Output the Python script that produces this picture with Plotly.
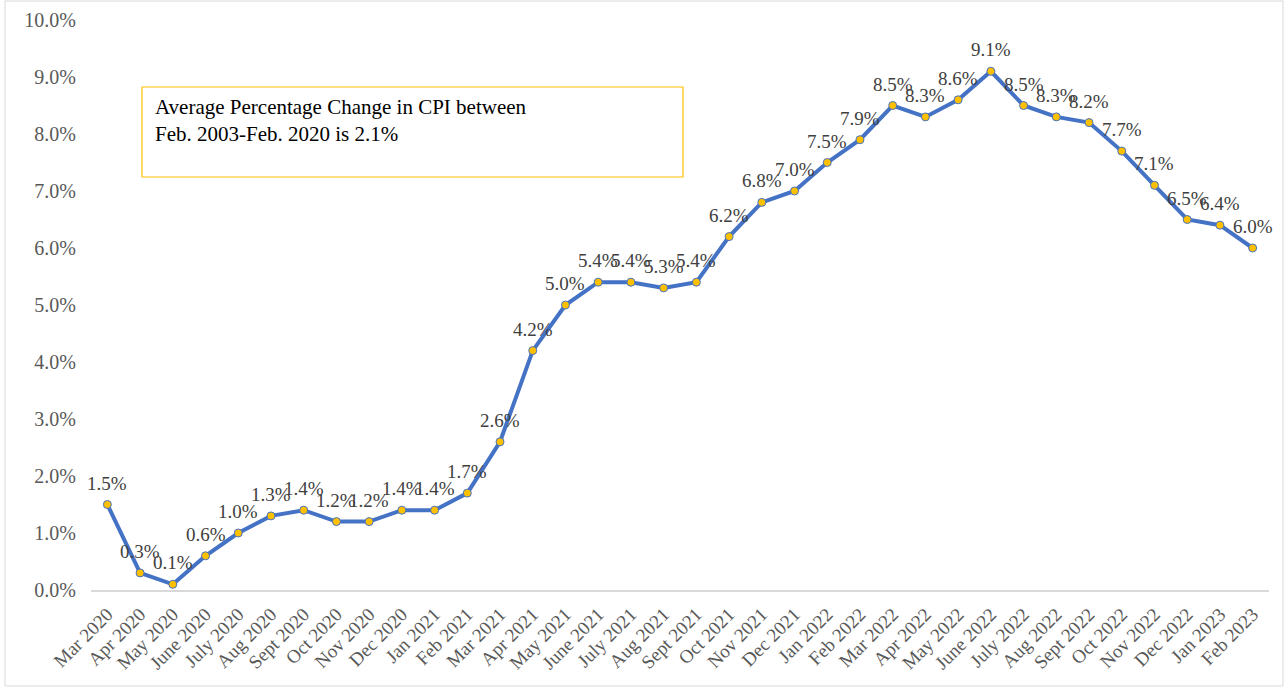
import plotly.graph_objects as go

months = ["Mar 2020", "Apr 2020", "May 2020", "June 2020", "July 2020", "Aug 2020",
          "Sept 2020", "Oct 2020", "Nov 2020", "Dec 2020", "Jan 2021", "Feb 2021",
          "Mar 2021", "Apr 2021", "May 2021", "June 2021", "July 2021", "Aug 2021",
          "Sept 2021", "Oct 2021", "Nov 2021", "Dec 2021", "Jan 2022", "Feb 2022",
          "Mar 2022", "Apr 2022", "May 2022", "June 2022", "July 2022", "Aug 2022",
          "Sept 2022", "Oct 2022", "Nov 2022", "Dec 2022", "Jan 2023", "Feb 2023"]
cpi_change = [1.5, 0.3, 0.1, 0.6, 1.0, 1.3, 1.4, 1.2, 1.2, 1.4, 1.4, 1.7,
              2.6, 4.2, 5.0, 5.4, 5.4, 5.3, 5.4, 6.2, 6.8, 7.0, 7.5, 7.9,
              8.5, 8.3, 8.6, 9.1, 8.5, 8.3, 8.2, 7.7, 7.1, 6.5, 6.4, 6.0]
y_ticks = [0, 1, 2, 3, 4, 5, 6, 7, 8, 9, 10]
y_tick_labels = ["0.0%", "1.0%", "2.0%", "3.0%", "4.0%", "5.0%", "6.0%", "7.0%", "8.0%", "9.0%", "10.0%"]
note_text = "Average Percentage Change in CPI between<br>Feb. 2003-Feb. 2020 is 2.1%"

SERIF = "Liberation Serif, Times New Roman, serif"
W, H = 1288, 691
ML, MR, MT, MB = 91, 19, 20, 101
PW, PH = W - ML - MR, H - MT - MB

def px(x):
    return (x - ML) / PW

def py(y):
    return (H - MB - y) / PH

fig = go.Figure()
fig.add_trace(go.Scatter(
    x=months, y=cpi_change, mode="lines+markers",
    line=dict(color="#4472C4", width=4),
    marker=dict(size=8, color="#FFC000", line=dict(color="#4472C4", width=1)),
    hoverinfo="x+y", showlegend=False,
))

for m, v in zip(months, cpi_change):
    fig.add_annotation(x=m, y=v, text=f"{v:.1f}%", showarrow=False,
                       yanchor="bottom", yshift=9,
                       font=dict(family=SERIF, size=19, color="#404040"))

# chart outer border
fig.add_shape(type="rect", xref="paper", yref="paper",
              x0=px(5), x1=px(1283), y0=py(1), y1=py(686),
              line=dict(color="#D9D9D9", width=1), layer="below")

# note box
fig.add_shape(type="rect", xref="paper", yref="paper",
              x0=px(142), x1=px(683), y0=py(87), y1=py(177),
              line=dict(color="#FFC000", width=1.2), fillcolor="white")
fig.add_annotation(xref="paper", yref="paper", x=px(153), y=py(93),
                   xanchor="left", yanchor="top", align="left",
                   text=note_text, showarrow=False,
                   font=dict(family=SERIF, size=21, color="#000000"))

fig.update_layout(
    width=W, height=H,
    margin=dict(l=ML, r=MR, t=MT, b=MB, autoexpand=False),
    paper_bgcolor="white", plot_bgcolor="white",
    font=dict(family=SERIF),
)
fig.update_xaxes(
    type="category", tickangle=-45, showgrid=False, zeroline=False,
    showline=True, linecolor="#D9D9D9", linewidth=1.5, automargin=False,
    ticks="", ticklabelstandoff=4,
    tickfont=dict(family=SERIF, size=19, color="#595959"),
    range=[-0.5, len(months) - 0.5],
)
fig.update_yaxes(
    range=[0, 10], tickvals=y_ticks, ticktext=y_tick_labels,
    showgrid=False, zeroline=False, showline=False, ticks="", automargin=False,
    ticklabelstandoff=14,
    tickfont=dict(family=SERIF, size=20, color="#595959"),
)

fig.write_html("out.html")
